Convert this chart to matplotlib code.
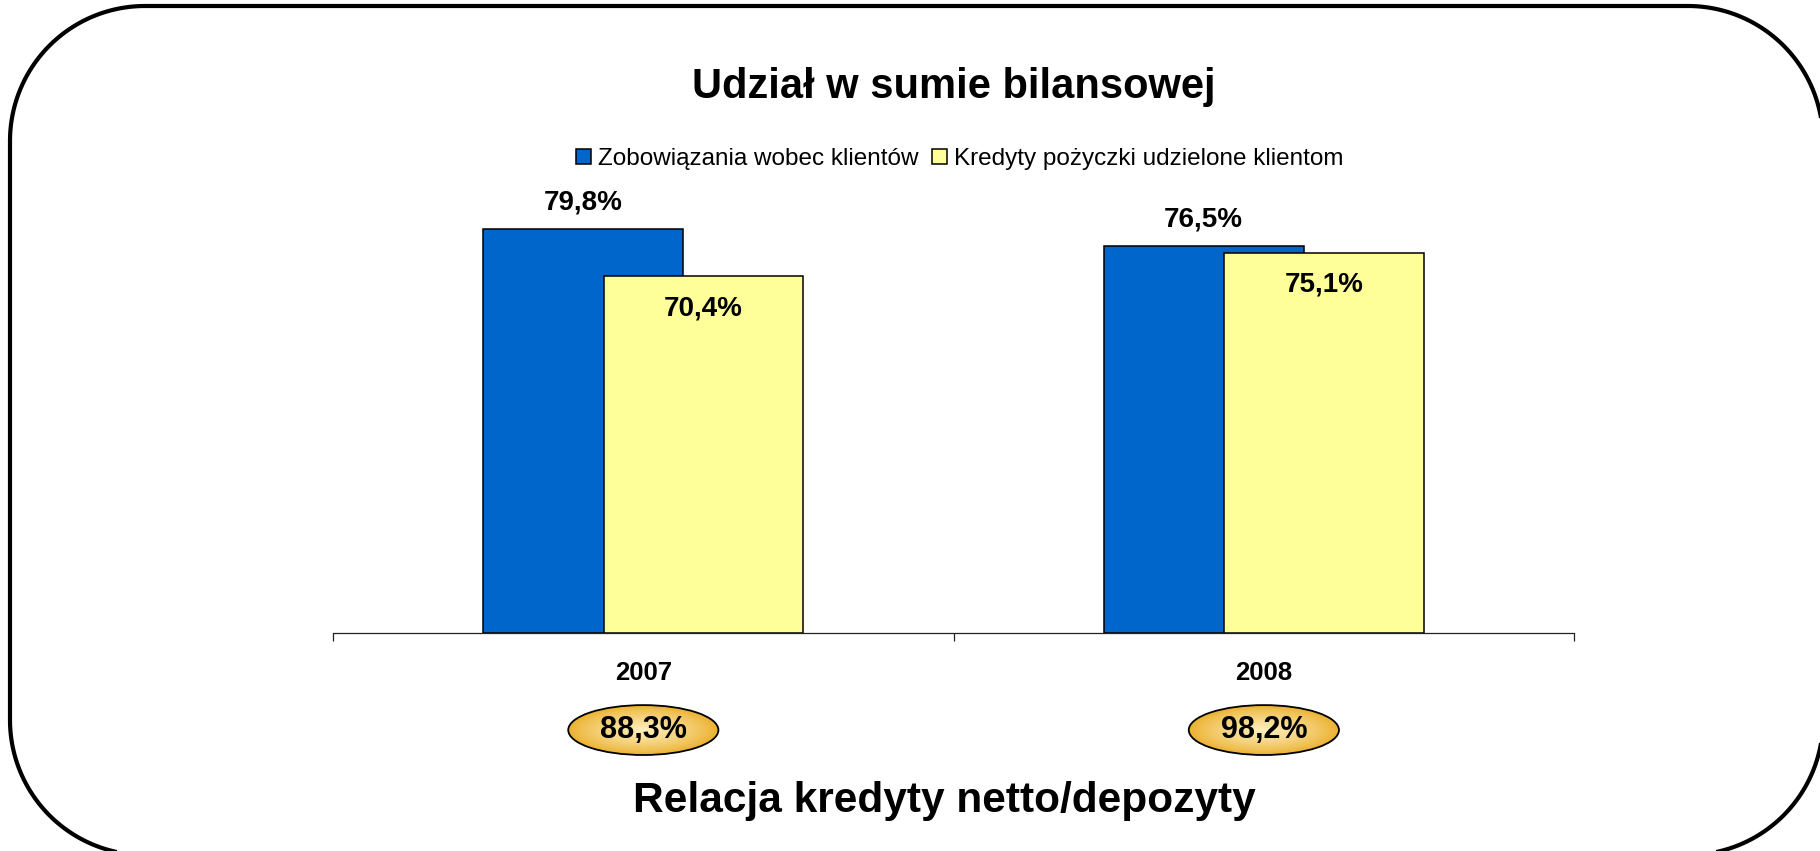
import matplotlib
matplotlib.use('Agg')
import matplotlib.pyplot as plt
import matplotlib.transforms as mtrans
from matplotlib.patches import Ellipse, Polygon
from matplotlib.colors import to_rgb
import numpy as np

plt.rcParams['font.family'] = ['Liberation Sans', 'DejaVu Sans']

# ---- data ----
title = 'Udział w sumie bilansowej'
bottom_title = 'Relacja kredyty netto/depozyty'
categories = ['2007', '2008']
series_names = ['Zobowiązania wobec klientów', 'Kredyty pożyczki udzielone klientom']
zobowiazania = [79.8, 76.5]
kredyty = [70.4, 75.1]
relacja = [88.3, 98.2]


def fmt(v):
    return f'{v:.1f}'.replace('.', ',') + '%'


fig = plt.figure(figsize=(18.2, 8.51), dpi=100)
ax = fig.add_axes([0.183, 0.2566, 0.6819, 0.5054])

x = np.arange(len(categories))
w = 0.322
off = 0.097
b1 = ax.bar(x - off, zobowiazania, w, color='#0066CC', edgecolor='black', linewidth=1.1, zorder=2)
b2 = ax.bar(x + off, kredyty, w, color='#FFFF99', edgecolor='black', linewidth=1.1, zorder=3)

ax.set_xlim(-0.5, len(categories) - 0.5)
ax.set_ylim(0, 85)
for s in ['top', 'right', 'left']:
    ax.spines[s].set_visible(False)
ax.spines['bottom'].set_color('#222222')
ax.spines['bottom'].set_linewidth(0.9)
ax.set_yticks([])
ax.set_xticks(np.arange(len(categories) + 1) - 0.5)
ax.set_xticklabels([])
ax.tick_params(axis='x', length=6, width=0.9, color='#222222', direction='out')

for xi, v in zip(x, zobowiazania):
    ax.annotate(fmt(v), (xi - off, v), xytext=(0, 19), textcoords='offset points',
                ha='center', va='center', fontsize=20, fontweight='bold', zorder=5)
for xi, v in zip(x, kredyty):
    ax.annotate(fmt(v), (xi + off, v), xytext=(0, -23), textcoords='offset points',
                ha='center', va='center', fontsize=20, fontweight='bold', zorder=5)

trans = mtrans.blended_transform_factory(ax.transData, ax.transAxes)
for xi, c in zip(x, categories):
    ax.text(xi, -0.094, c, transform=trans, ha='center', va='center',
            fontsize=18.5, fontweight='bold')

# golden ellipses with radial gradient
outer = np.array(to_rgb('#EBB02E'))
inner = np.array(to_rgb('#FDF0C0'))
ew, eh, yc = 0.242, 0.116, -0.2265
n = 50
for xi, v in zip(x, relacja):
    for i in range(n):
        f = 1 - i / n
        t = (i / n) ** 0.8
        col = outer * (1 - t) + inner * t
        ax.add_patch(Ellipse((xi, yc), ew * f, eh * f, transform=trans, facecolor=col,
                             edgecolor='none', clip_on=False, zorder=4))
    ax.add_patch(Ellipse((xi, yc), ew, eh, transform=trans, facecolor='none',
                         edgecolor='black', linewidth=1.3, clip_on=False, zorder=5))
    ax.text(xi, yc, fmt(v), transform=trans, ha='center', va='center',
            fontsize=22, fontweight='bold', zorder=6)

ax.legend([b1, b2], series_names, loc='center', bbox_to_anchor=(0.505, 1.101), ncol=2,
          frameon=False, fontsize=17.5, handlelength=0.62, handleheight=0.62,
          handletextpad=0.3, columnspacing=0.55, borderaxespad=0)

fig.text(0.524, 1 - 87 / 851, title, ha='center', va='center', fontsize=30, fontweight='bold')
fig.text(0.519, 1 - 801 / 851, bottom_title, ha='center', va='center', fontsize=30.5,
         fontweight='bold')


# rounded frame (circular corners, built as a polyline in inches)
def rounded_frame(x0, y0, x1, y1, r, npts=80):
    pts = []
    corners = [(x1 - r, y0 + r, -90, 0), (x1 - r, y1 - r, 0, 90),
               (x0 + r, y1 - r, 90, 180), (x0 + r, y0 + r, 180, 270)]
    for cx, cy, a0, a1 in corners:
        ang = np.radians(np.linspace(a0, a1, npts))
        pts.extend(zip(cx + r * np.cos(ang), cy + r * np.sin(ang)))
    return np.array(pts)


frame = Polygon(rounded_frame(0.10, -0.04, 18.23, 8.45, 1.35), closed=True,
                transform=fig.dpi_scale_trans, fill=False, edgecolor='black',
                linewidth=3, joinstyle='round')
fig.add_artist(frame)

fig.savefig('out.png', dpi=100)
